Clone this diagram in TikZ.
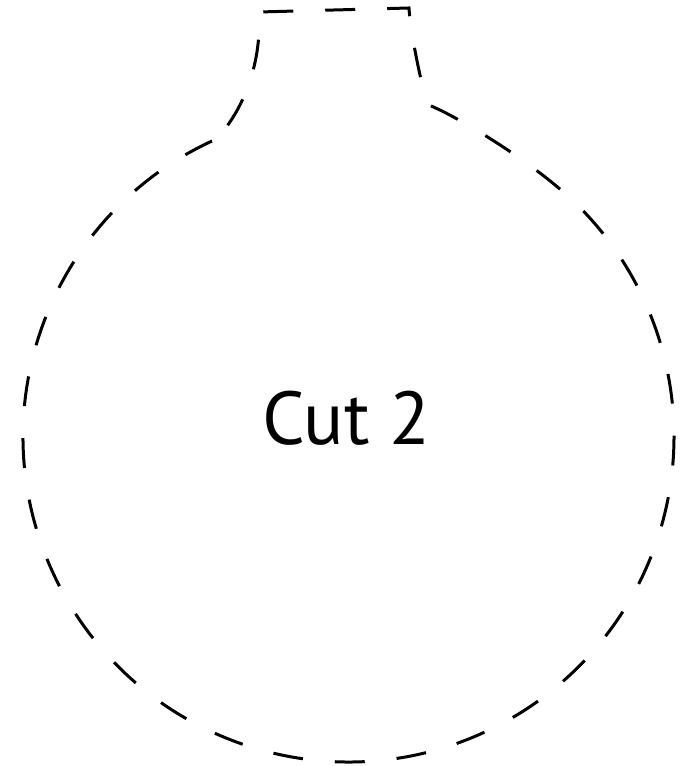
\documentclass[tikz,border=0pt]{standalone}
\usepackage{fontspec}
\setsansfont{PT Sans}
\usetikzlibrary{calc}

\begin{document}
\begin{tikzpicture}[x=1pt, y=1pt,
	cutline/.style = {line width=3pt, dash pattern=on 30pt off 32pt}]
\useasboundingbox (0, 0) rectangle (691, 766);

\draw[cutline]
	(212, 625) arc[start angle=114.8, end angle=405, radius=325.5]
	.. controls (538.7, 599.7) and (472, 640) ..
	(442, 655) --
	(427, 662) .. controls (417, 700) and (410, 740) ..
	(409, 758) --
	(259, 754) --
	(259, 736) .. controls (258, 700) and (245, 660) ..
	(220, 631) --
	cycle;

\node[font=\sffamily\fontsize{75}{84}\selectfont] (label) at (346.5, 348) {Cut 2};
\end{tikzpicture}
\end{document}
